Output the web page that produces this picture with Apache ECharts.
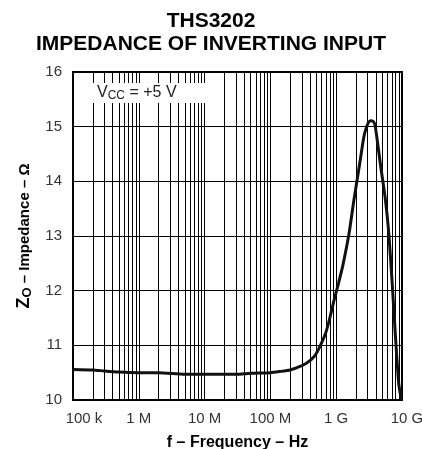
<!DOCTYPE html>
<html><head><meta charset="utf-8">
<script src="https://cdn.jsdelivr.net/npm/echarts@6/dist/echarts.min.js"></script>
<style>html,body{margin:0;padding:0;background:#fff}#c{width:422px;height:449px}</style>
</head><body><div id="c"></div>
<script>
const freqHz = [1e5,2e5,3e5,5e5,1e6,2e6,5e6,1e7,3e7,5e7,1e8,1.37e8,2e8,2.75e8,3.5e8,4.6e8,5.5e8,6.9e8,8e8,9.3e8,1.08e9,1.25e9,1.57e9,1.86e9,2.24e9,2.63e9,2.9e9,3.15e9,3.35e9,3.6e9,3.85e9,4.1e9,4.75e9,5.6e9,6.3e9,7.1e9,7.9e9,8.9e9,9.8e9];
const impedance = [10.56,10.55,10.53,10.51,10.50,10.50,10.47,10.47,10.47,10.49,10.50,10.52,10.55,10.61,10.67,10.79,10.95,11.22,11.50,11.83,12.13,12.44,13.05,13.66,14.27,14.81,15.00,15.09,15.11,15.10,15.05,14.85,14.27,13.66,13.05,12.13,11.22,10.31,10.0];
const xTickValues = [1e5,1e6,1e7,1e8,1e9,1e10];
const xTickLabels = ['100 k','1 M','10 M','100 M','1 G','10 G'];
const yTicks = [10,11,12,13,14,15,16];
const minorGridValues = [];
for (let d = 5; d < 10; d++) for (let k = 2; k <= 9; k++) minorGridValues.push(k * Math.pow(10, d));

const font = 'Liberation Sans, Arial, sans-serif';
const chart = echarts.init(document.getElementById('c'), null, {renderer: 'canvas'});
chart.setOption({
  animation: false,
  title: {
    text: 'THS3202\nIMPEDANCE OF INVERTING INPUT',
    left: 'center', top: 10, padding: [0, 0, 0, 12],
    textStyle: {fontFamily: font, fontWeight: 'bold', fontSize: 21, lineHeight: 23, color: '#000'}
  },
  grid: {left: 73, right: 20, top: 72, bottom: 49, show: true, borderColor: '#000', borderWidth: 2, containLabel: false, outerBoundsMode: 'none'},
  xAxis: {
    type: 'log', logBase: 10, min: 1e5, max: 1e10,
    axisLine: {show: true, lineStyle: {color: '#000', width: 2}},
    axisTick: {show: false},
    splitLine: {show: true, lineStyle: {color: '#000', width: 1}},
    axisLabel: {
      fontFamily: font, fontSize: 15, color: '#333', margin: 11,
      formatter: v => {
        const i = xTickValues.findIndex(t => Math.abs(Math.log10(t) - Math.log10(v)) < 1e-6);
        if (i < 0) return '';
        if (i === 0) return '{a|' + xTickLabels[i] + '}';
        if (i === xTickLabels.length - 1) return '{b|' + xTickLabels[i] + '}';
        return xTickLabels[i];
      },
      rich: {
        a: {fontFamily: font, fontSize: 15, color: '#333', padding: [0, 0, 0, 22]},
        b: {fontFamily: font, fontSize: 15, color: '#333', padding: [0, 0, 0, 10]}
      }
    },
    name: 'f – Frequency – Hz', nameLocation: 'middle', nameGap: 35,
    nameTextStyle: {fontFamily: font, fontWeight: 'bold', fontSize: 16, color: '#000'}
  },
  yAxis: {
    type: 'value', min: yTicks[0], max: yTicks[yTicks.length - 1], interval: 1,
    axisLine: {show: true, lineStyle: {color: '#000', width: 2}},
    axisTick: {show: false},
    splitLine: {show: true, lineStyle: {color: '#000', width: 1}},
    axisLabel: {fontFamily: font, fontSize: 15, color: '#333', margin: 11},
    name: '{z|Z}{s|O}{t| – Impedance – Ω}', nameLocation: 'middle', nameGap: 38, nameRotate: 90,
    nameTextStyle: {
      rich: {
        z: {fontFamily: font, fontWeight: 'bold', fontSize: 18, color: '#000'},
        s: {fontFamily: font, fontWeight: 'bold', fontSize: 13, color: '#000', verticalAlign: 'bottom', padding: [7, 0, 0, 0]},
        t: {fontFamily: font, fontWeight: 'bold', fontSize: 15, color: '#000'}
      }
    }
  },
  series: [
    {
      type: 'line', data: [], silent: true,
      markLine: {
        silent: true, symbol: 'none', label: {show: false},
        lineStyle: {color: '#000', width: 1, type: 'solid'},
        data: minorGridValues.map(v => ({xAxis: v}))
      }
    },
    {
      type: 'line', data: freqHz.map((f, i) => [f, impedance[i]]),
      showSymbol: false, smooth: 0.2,
      lineStyle: {color: '#111', width: 3}, clip: true, z: 5
    }
  ],
  graphic: [
    {type: 'rect', shape: {x: 75, y: 83, width: 135, height: 20}, style: {fill: '#fff'}, z: 100},
    {type: 'text', x: 97, y: 93, z: 101, style: {
      text: '{v|V}{s|CC}{v| = +5 V}', verticalAlign: 'middle',
      rich: {
        v: {fontFamily: font, fontSize: 16, fill: '#222'},
        s: {fontFamily: font, fontSize: 12, fill: '#222', verticalAlign: 'bottom', padding: [6, 0, 0, 0]}
      }
    }}
  ]
});
</script></body></html>
